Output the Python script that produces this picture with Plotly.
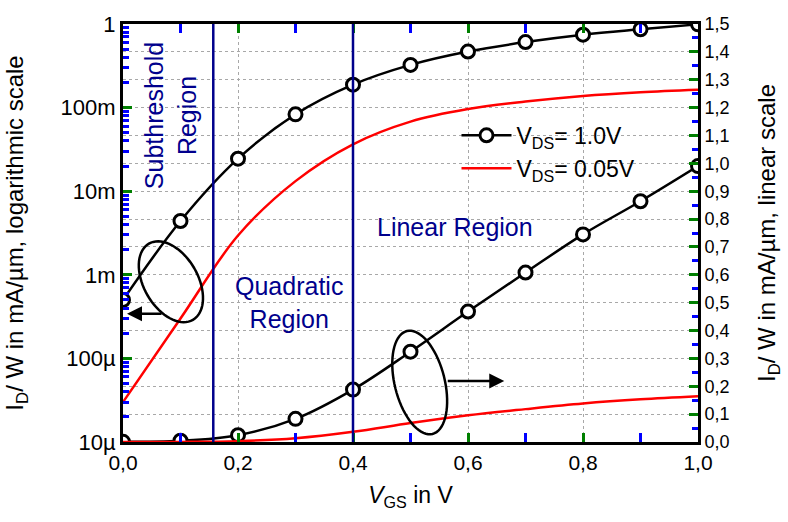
import math
import plotly.graph_objects as go

# ---- data ----
vgs = [0.0, 0.1, 0.2, 0.3, 0.4, 0.5, 0.6, 0.7, 0.8, 0.9, 1.0]
id_vds_1v0 = [5.0e-4, 4.4e-3, 0.0245, 0.083, 0.188, 0.324, 0.468, 0.608, 0.745, 0.864, 0.99]
id_vds_0v05 = [3.0e-5, 3.0e-4, 2.95e-3, 0.0132, 0.0364, 0.068, 0.096, 0.118, 0.138, 0.153, 0.164]
series_names = ["V<sub>DS</sub>= 1.0V", "V<sub>DS</sub>= 0.05V"]
region_lines = [0.157, 0.4]
log_decades = [1e-5, 1e-4, 1e-3, 1e-2, 1e-1]

FONT = "Liberation Sans, Arial, sans-serif"
NAVY = "#00008c"
GRID = "#a8a8a8"
TMAJ = "green"
TMIN = "blue"

log_minor_ticks = [d * k for d in log_decades for k in range(2, 10)]

fig = go.Figure()

fig.add_trace(go.Scatter(x=vgs, y=id_vds_1v0, name=series_names[0], mode="lines+markers",
                         line=dict(color="black", width=2.5, shape="spline"),
                         marker=dict(symbol="circle", size=13, color="white",
                                     line=dict(color="black", width=3)),
                         xaxis="x", yaxis="y"))
fig.add_trace(go.Scatter(x=vgs, y=id_vds_0v05, name=series_names[1], mode="lines",
                         line=dict(color="red", width=2.5, shape="spline"),
                         xaxis="x", yaxis="y"))
fig.add_trace(go.Scatter(x=vgs, y=id_vds_1v0, name=series_names[0], mode="lines+markers",
                         line=dict(color="black", width=2.5, shape="spline"),
                         marker=dict(symbol="circle", size=13, color="white",
                                     line=dict(color="black", width=3)),
                         xaxis="x", yaxis="y2", showlegend=False))
fig.add_trace(go.Scatter(x=vgs, y=id_vds_0v05, name=series_names[1], mode="lines",
                         line=dict(color="red", width=2.5, shape="spline"),
                         xaxis="x", yaxis="y2", showlegend=False))
fig.add_trace(go.Scatter(x=vgs, y=id_vds_0v05, mode="lines", line=dict(width=0),
                         opacity=0, hoverinfo="skip", showlegend=False,
                         xaxis="x", yaxis="y3"))

for xv in region_lines:
    fig.add_shape(type="line", xref="x", yref="paper", x0=xv, x1=xv, y0=0, y1=1,
                  line=dict(color=NAVY, width=2.5), layer="above")


def ellipse_path(a, b, theta_deg, n=72):
    t = math.radians(theta_deg)
    pts = []
    for i in range(n):
        p = 2 * math.pi * i / n
        ex = b * math.cos(p)
        ey = a * math.sin(p)
        rx = ex * math.cos(t) - ey * math.sin(t)
        ry = ex * math.sin(t) + ey * math.cos(t)
        pts.append(f"{rx:.2f},{ry:.2f}")
    return "M " + " L ".join(pts) + " Z"


fig.add_shape(type="path", xref="x", yref="y2", xsizemode="pixel", ysizemode="pixel",
              xanchor=0.0833, yanchor=0.575, path=ellipse_path(44, 27, 30),
              line=dict(color="black", width=2.5), layer="above")
fig.add_shape(type="path", xref="x", yref="y2", xsizemode="pixel", ysizemode="pixel",
              xanchor=0.516, yanchor=0.2135, path=ellipse_path(53, 25, 14),
              line=dict(color="black", width=2.5), layer="above")

fig.add_annotation(x=0.007, y=0.4606, xref="x", yref="y2", ax=36, ay=0, text="",
                   showarrow=True, arrowhead=2, arrowsize=1.2, arrowwidth=2.5, arrowcolor="black")
fig.add_annotation(x=0.663, y=0.219, xref="x", yref="y2", ax=-58, ay=0, text="",
                   showarrow=True, arrowhead=2, arrowsize=1.2, arrowwidth=2.5, arrowcolor="black")

rfont = dict(family=FONT, size=25, color=NAVY)
fig.add_annotation(x=0.083, y=1.172, xref="x", yref="y2", text="Subthreshold<br>Region",
                   textangle=-90, showarrow=False, font=rfont)
fig.add_annotation(x=0.288, y=0.50, xref="x", yref="y2", text="Quadratic<br>Region",
                   showarrow=False, font=rfont)
fig.add_annotation(x=0.578, y=0.77, xref="x", yref="y2", text="Linear Region",
                   showarrow=False, font=rfont)

fig.update_layout(
    width=788, height=522,
    margin=dict(l=123, r=89, t=17, b=80),
    plot_bgcolor="white",
    separators=",.",
    font=dict(family=FONT, size=22, color="black"),
    showlegend=True,
    legend=dict(x=0.58, y=0.785, xanchor="left", yanchor="top", itemwidth=50,
                bgcolor="rgba(0,0,0,0)", font=dict(size=23), tracegroupgap=0),
    xaxis=dict(range=[0, 1], dtick=0.2, tickformat=".1f", ticks="inside", ticklen=9,
               tickwidth=3, tickcolor=TMAJ, showline=True, linewidth=3, linecolor="black",
               mirror="allticks", showgrid=True, gridcolor=GRID,
               griddash="dot", gridwidth=1, tickfont=dict(size=21),
               minor=dict(dtick=0.1, ticks="inside", ticklen=6, tickwidth=2.5,
                          tickcolor=TMIN),
               title=dict(text="<i>V</i><sub>GS</sub> in V", font=dict(size=23), standoff=14)),
    yaxis=dict(type="log", range=[-5, 0], dtick=1, tickformat="~s", ticks="inside",
               ticklen=9, tickwidth=3, tickcolor=TMAJ, showline=True, linewidth=3,
               linecolor="black", showgrid=False,
               tickfont=dict(size=22),
               title=dict(text="I<sub>D</sub>/ W in mA/µm, logarithmic scale",
                          font=dict(size=24), standoff=31)),
    yaxis3=dict(type="log", range=[-5, 0], overlaying="y", side="left", anchor="x",
                tickmode="array", tickvals=log_minor_ticks, ticks="inside", ticklen=6,
                tickwidth=2.5, tickcolor=TMIN, showticklabels=False, showline=False,
                showgrid=False),
    yaxis2=dict(range=[0, 1.5], dtick=0.1, tickformat=".1f", overlaying="y", side="right",
                ticks="inside", ticklen=9, tickwidth=3, tickcolor=TMAJ, showline=True,
                linewidth=3, linecolor="black", showgrid=True,
                gridcolor=GRID, griddash="dot", gridwidth=1, tickfont=dict(size=18),
                minor=dict(dtick=0.05, ticks="inside", ticklen=6, tickwidth=2.5,
                           tickcolor=TMIN),
                title=dict(text="I<sub>D</sub>/ W in mA/µm, linear scale",
                           font=dict(size=24), standoff=30)),
)

fig.write_html("out.html")
